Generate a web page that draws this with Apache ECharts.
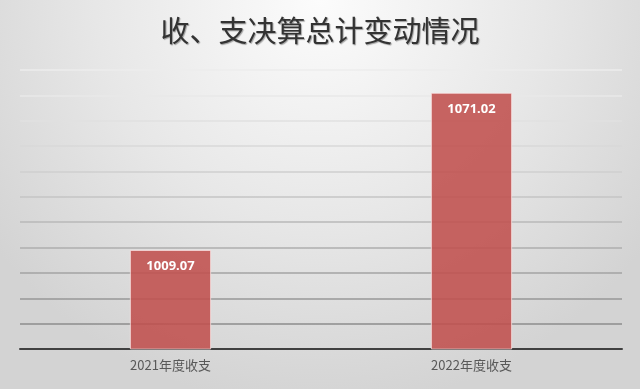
<!DOCTYPE html>
<html>
<head>
<meta charset="utf-8">
<script src="https://cdn.jsdelivr.net/npm/echarts@6/dist/echarts.min.js"></script>
<style>
  html, body { margin: 0; padding: 0; background: #fff; }
  #chart { width: 640px; height: 389px; }
</style>
</head>
<body>
<div id="chart"></div>
<script>
// Year-on-year totals of revenue and expenditure
const titleText = '收、支决算总计变动情况';
const categories = ['2021年度收支', '2022年度收支'];
const totals = [1009.07, 1071.02];

// Value axis range (labels hidden)
const axisMin = 970;
const axisMax = 1080;
const axisStep = 10;

// Split lines fade from dark at the bottom to light at the top
const splitColors = ['#7f7f7f', '#8c8c8c', '#979797', '#a3a3a3', '#aeaeae', '#b9b9b9',
                     '#c4c4c4', '#cfcfcf', '#d9d9d9', '#e1e1e1', '#e8e8e8', '#ececec'];

const chart = echarts.init(document.getElementById('chart'), null, { renderer: 'canvas' });

chart.setOption({
  animation: false,
  backgroundColor: {
    type: 'radial', x: 0.5, y: 0, r: 1.05,
    colorStops: [
      { offset: 0, color: '#fcfcfc' },
      { offset: 0.55, color: '#e7e7e7' },
      { offset: 1, color: '#d3d3d3' }
    ]
  },
  title: {
    text: titleText,
    left: 'center',
    top: 11,
    textStyle: {
      fontFamily: 'Noto Sans CJK SC',
      fontSize: 29,
      fontWeight: 'normal',
      color: '#333333',
      textShadowColor: 'rgba(0,0,0,0.35)',
      textShadowOffsetX: 1,
      textShadowOffsetY: 1,
      textShadowBlur: 1
    }
  },
  grid: { left: 20, right: 18, top: 70, bottom: 40, containLabel: false },
  xAxis: {
    type: 'category',
    data: categories,
    axisLine: { show: true, lineStyle: { color: '#404040', width: 2 } },
    axisTick: { show: false },
    axisLabel: {
      margin: 10,
      color: '#595959',
      fontSize: 13,
      fontFamily: 'Noto Sans CJK SC'
    }
  },
  yAxis: {
    type: 'value',
    min: axisMin,
    max: axisMax,
    interval: axisStep,
    axisLabel: { show: false },
    axisLine: { show: false },
    axisTick: { show: false },
    splitLine: { show: true, lineStyle: { color: splitColors, width: 1.5 } }
  },
  series: [{
    type: 'bar',
    data: totals,
    barWidth: '27%',
    itemStyle: {
      color: 'rgba(192,80,77,0.88)',
      borderColor: 'rgba(255,235,235,0.7)',
      borderWidth: 1
    },
    label: {
      show: true,
      position: 'insideTop',
      distance: 10,
      color: '#ffffff',
      fontSize: 13,
      fontWeight: 'bold',
      fontFamily: 'Noto Sans',
      formatter: p => p.value.toFixed(2)
    }
  }]
});
</script>
</body>
</html>
